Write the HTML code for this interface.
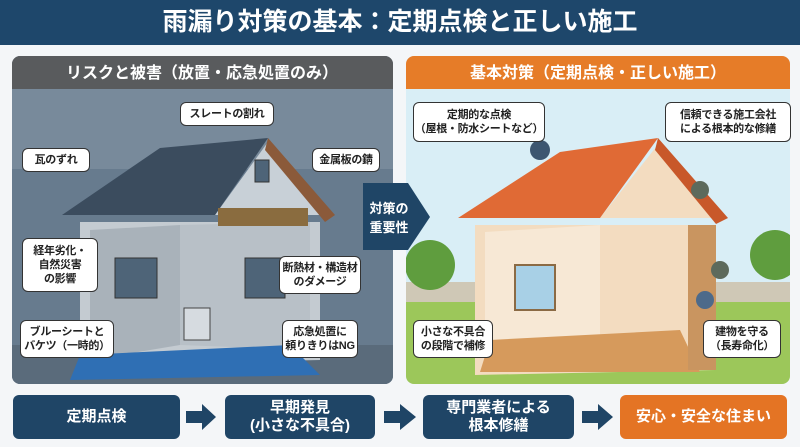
<!DOCTYPE html>
<html><head><meta charset="utf-8"><style>
body{margin:0;width:800px;height:447px;overflow:hidden;background:#f4f6f8;font-family:"Liberation Sans","Noto Sans CJK JP",sans-serif;}
.a{position:absolute}
.lb{position:absolute;background:#fff;border:1.5px solid #333;border-radius:6px;font-size:11px;font-weight:bold;color:#222;text-align:center;line-height:14px;display:flex;align-items:center;justify-content:center;white-space:nowrap;letter-spacing:-0.3px}
.bx{position:absolute;top:395px;height:44px;background:#1f4566;border-radius:6px;color:#fff;font-size:15px;font-weight:bold;text-align:center;display:flex;align-items:center;justify-content:center;line-height:18px}
</style></head><body>
<div class="a" style="left:0;top:0;width:800px;height:45px;background:#1e476b;color:#fff;font-size:25px;font-weight:bold;text-align:center;line-height:45px">雨漏り対策の基本：定期点検と正しい施工</div>
<svg class="a" style="left:0;top:0" width="800" height="447">
<defs><clipPath id="cl"><rect x="12" y="56" width="381" height="328" rx="8"/></clipPath><clipPath id="cr"><rect x="406" y="56" width="384" height="328" rx="8"/></clipPath></defs>
<g clip-path="url(#cl)">
<rect x="12" y="56" width="381" height="328" fill="#677b8e"/>
<rect x="12" y="89" width="381" height="80" fill="#788a9b"/>
<rect x="12" y="345" width="381" height="39" fill="#5a6b7b"/>
<polygon points="80,222 80,365 320,360 320,222" fill="#c4cbd1"/>
<polygon points="90,230 180,225 180,345 90,360" fill="#a9b2ba"/>
<polygon points="180,225 310,222 310,350 180,345" fill="#b8c0c7"/>
<rect x="115" y="258" width="42" height="40" fill="#4e6478" stroke="#333"/>
<rect x="245" y="258" width="40" height="40" fill="#4e6478" stroke="#333"/>
<polygon points="80,355 290,345 320,375 70,380" fill="#2f6fb4"/>
<rect x="184" y="308" width="26" height="32" fill="#d6dbe0" stroke="#444"/>
<polygon points="215,215 268,142 325,215" fill="#c8d0d7"/>
<polygon points="62,215 160,148 268,138 215,215" fill="#3b4c5e"/>
<polygon points="268,138 335,215 325,222 265,150" fill="#8b5a3a"/>
<rect x="218" y="208" width="90" height="18" fill="#8a6c3f"/>
<rect x="255" y="160" width="14" height="22" fill="#4e6478" stroke="#333"/>
</g>
<g clip-path="url(#cr)">
<rect x="406" y="56" width="384" height="328" fill="#d9eef6"/>
<rect x="406" y="300" width="384" height="84" fill="#9cc75a"/>
<rect x="406" y="282" width="384" height="20" fill="#cfc8b6"/>
<circle cx="430" cy="265" r="25" fill="#5f9d3e"/><circle cx="775" cy="255" r="25" fill="#5f9d3e"/>
<polygon points="475,225 475,375 715,370 715,225" fill="#f3dcc0"/>
<polygon points="485,232 600,225 600,340 485,350" fill="#f7e8d5"/>
<rect x="515" y="265" width="40" height="45" fill="#a8d0e6" stroke="#8b6a44" stroke-width="2"/>
<polygon points="490,340 680,330 700,372 480,372" fill="#d69a5c"/>
<rect x="688" y="225" width="28" height="145" fill="#c99560"/>
<polygon points="600,218 660,142 712,218" fill="#f3dcc0"/>
<polygon points="458,218 560,152 658,138 600,218" fill="#e06a35"/>
<polygon points="658,138 728,218 716,224 655,150" fill="#c8582a"/>
<circle cx="540" cy="150" r="10" fill="#3d5670"/>
<circle cx="700" cy="190" r="9" fill="#5d6a5c"/>
<circle cx="720" cy="270" r="9" fill="#5d6a5c"/>
<circle cx="705" cy="300" r="9" fill="#4d6a8a"/>
</g>
<rect x="12" y="56" width="381" height="33" rx="8" fill="#595b5d"/><rect x="12" y="80" width="381" height="9" fill="#595b5d"/>
<rect x="406" y="56" width="384" height="33" rx="8" fill="#e67c28"/><rect x="406" y="80" width="384" height="9" fill="#e67c28"/>
<text x="202" y="78" fill="#fff" font-size="16" font-weight="bold" text-anchor="middle" font-family="Liberation Sans,Noto Sans CJK JP,sans-serif">リスクと被害（放置・応急処置のみ）</text>
<text x="598" y="78" fill="#fff" font-size="16" font-weight="bold" text-anchor="middle" font-family="Liberation Sans,Noto Sans CJK JP,sans-serif">基本対策（定期点検・正しい施工）</text>
<polygon points="363,183 408,183 430,217 408,250 363,250" fill="#1f4566"/>
<text x="389" y="213" fill="#fff" font-size="13" font-weight="bold" text-anchor="middle" font-family="Liberation Sans,Noto Sans CJK JP,sans-serif">対策の</text>
<text x="389" y="232" fill="#fff" font-size="13" font-weight="bold" text-anchor="middle" font-family="Liberation Sans,Noto Sans CJK JP,sans-serif">重要性</text>
<g fill="#1f4566"><polygon points="186,411 202,411 202,404 216,417 202,430 202,423 186,423"/><polygon points="384,411 400,411 400,404 416,417 400,430 400,423 384,423"/><polygon points="582,411 598,411 598,404 613,417 598,430 598,423 582,423"/></g>
</svg>
<div class="lb" style="left:180px;top:102px;width:92px;height:22px">スレートの割れ</div>
<div class="lb" style="left:22px;top:148px;width:66px;height:22px">瓦のずれ</div>
<div class="lb" style="left:312px;top:148px;width:66px;height:22px">金属板の錆</div>
<div class="lb" style="left:22px;top:238px;width:74px;height:52px">経年劣化・<br>自然災害<br>の影響</div>
<div class="lb" style="left:279px;top:256px;width:80px;height:36px">断熱材・構造材<br>のダメージ</div>
<div class="lb" style="left:20px;top:320px;width:92px;height:36px">ブルーシートと<br>バケツ（一時的）</div>
<div class="lb" style="left:282px;top:320px;width:74px;height:36px">応急処置に<br>頼りきりはNG</div>
<div class="lb" style="left:413px;top:102px;width:130px;height:38px">定期的な点検<br>（屋根・防水シートなど）</div>
<div class="lb" style="left:665px;top:102px;width:124px;height:38px">信頼できる施工会社<br>による根本的な修繕</div>
<div class="lb" style="left:413px;top:320px;width:78px;height:36px">小さな不具合<br>の段階で補修</div>
<div class="lb" style="left:703px;top:320px;width:76px;height:36px">建物を守る<br>（長寿命化）</div>
<div class="bx" style="left:13px;width:167px">定期点検</div>
<div class="bx" style="left:225px;width:150px">早期発見<br>(小さな不具合)</div>
<div class="bx" style="left:423px;width:151px">専門業者による<br>根本修繕</div>
<div class="bx" style="left:620px;width:167px;background:#e47424">安心・安全な住まい</div>
</body></html>
